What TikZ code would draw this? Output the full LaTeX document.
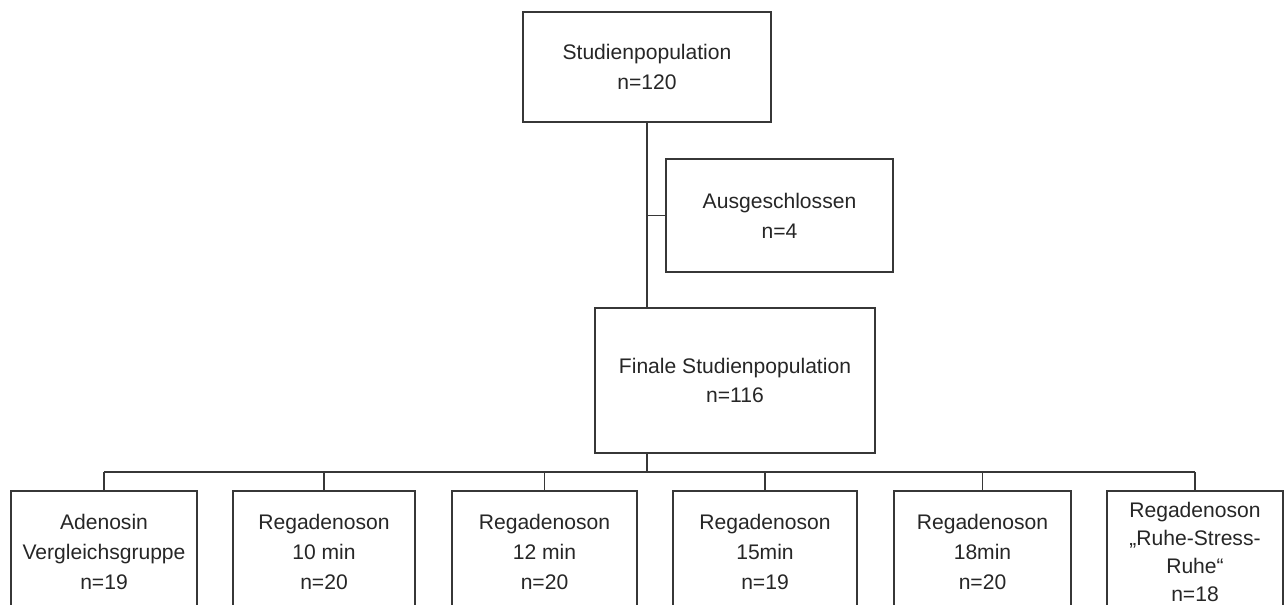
\documentclass[tikz,border=0pt]{standalone}
\usepackage{fontspec}
\setmainfont{Liberation Sans}
\definecolor{linegray}{RGB}{55,55,55}
\tikzset{
	box/.style={draw=linegray,line width=0.8pt,rectangle,align=center,text=black!85,
		font=\fontsize{12}{17}\selectfont,inner sep=0pt},
	link/.style={draw=linegray,line width=0.8pt}
}
\begin{document}
\begin{tikzpicture}[x=0.02cm,y=-0.02cm]
	
	%frame
	\clip (0,0) rectangle (1286,605);
	%boxes
	\node[box,minimum width=4.96cm,minimum height=2.2cm](stud) at (647,67) {Studienpopulation\\n=120};
	\node[box,minimum width=4.54cm,minimum height=2.26cm](ausg) at (779.5,215.5) {Ausgeschlossen\\n=4};
	\node[box,minimum width=5.6cm,minimum height=2.9cm](finale) at (735,380.5) {Finale Studienpopulation\\n=116};
	%groups
	\node[box,minimum width=3.72cm,minimum height=2.44cm](adeno) at (104,552) {Adenosin\\Vergleichsgruppe\\n=19};
	\node[box,minimum width=3.64cm,minimum height=2.44cm](rega10) at (324,552) {Regadenoson\\10 min\\n=20};
	\node[box,minimum width=3.70cm,minimum height=2.44cm](rega12) at (544.5,552) {Regadenoson\\12 min\\n=20};
	\node[box,minimum width=3.68cm,minimum height=2.44cm](rega15) at (765,552) {Regadenoson\\15min\\n=19};
	\node[box,minimum width=3.54cm,minimum height=2.44cm](rega18) at (982.5,552) {Regadenoson\\18min\\n=20};
	\node[box,minimum width=3.52cm,minimum height=2.44cm,font=\fontsize{12}{15.8}\selectfont](regaRSR) at (1195,552) {Regadenoson\\„Ruhe-Stress-\\Ruhe“\\n=18};
	\coordinate (split) at (647,472);
	%lines
	\draw[link] (stud.south) -- (stud.south |- finale.north);
	\draw[link] (ausg.west) -- (ausg.west -| stud.south);
	\draw[link] (stud.south |- finale.south) -- (split);
	\draw[link] (adeno.north |- split) -- (regaRSR.north |- split);
	\draw[link] (adeno.north) -- (adeno.north |- split);
	\draw[link] (rega10.north) -- (rega10.north |- split);
	\draw[link] (rega12.north) -- (rega12.north |- split);
	\draw[link] (rega15.north) -- (rega15.north |- split);
	\draw[link] (rega18.north) -- (rega18.north |- split);
	\draw[link] (regaRSR.north) -- (regaRSR.north |- split);
	\end{tikzpicture}
\end{document}
